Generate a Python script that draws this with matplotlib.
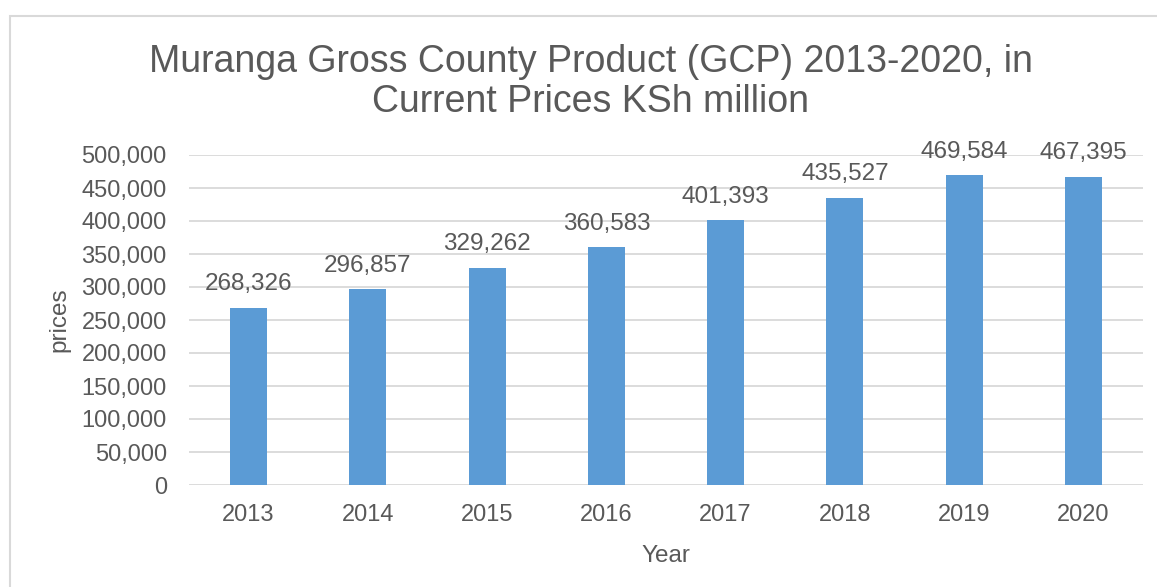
import numpy as np
import matplotlib.pyplot as plt
from matplotlib.patches import Rectangle
from matplotlib.ticker import FuncFormatter

plt.rcParams['font.family'] = ['Liberation Sans', 'DejaVu Sans']

years = ['2013', '2014', '2015', '2016', '2017', '2018', '2019', '2020']
gcp = [268326, 296857, 329262, 360583, 401393, 435527, 469584, 467395]

text_col = '#595959'
grid_col = '#D9D9D9'
bar_col = '#5B9BD5'

fig = plt.figure(figsize=(11.57, 5.87), dpi=100)
ax = fig.add_axes([189 / 1157, 1 - 485 / 587, (1143 - 189) / 1157, (485 - 155) / 587])

x = np.arange(len(years))
bars = ax.bar(x, gcp, width=0.31, color=bar_col, zorder=3)
for xi, v in zip(x, gcp):
    ax.annotate(f"{v:,}", (xi, v), xytext=(0, 9), textcoords='offset points',
                ha='center', va='bottom', fontsize=17.5, color=text_col,
                annotation_clip=False)

ax.set_xlim(-0.5, len(years) - 0.5)
ax.set_ylim(0, 500000)
ax.set_yticks(np.arange(0, 500001, 50000))
ax.yaxis.set_major_formatter(FuncFormatter(lambda v, p: f"{int(v):,}"))
ax.set_xticks(x)
ax.set_xticklabels(years)
ax.tick_params(axis='both', length=0, labelsize=17, labelcolor=text_col)
ax.tick_params(axis='y', pad=16)
ax.tick_params(axis='x', pad=14)
ax.grid(axis='y', color=grid_col, linewidth=1.3, zorder=0)
for s in ax.spines.values():
    s.set_visible(False)

ax.set_xlabel('Year', fontsize=17.5, color=text_col, labelpad=13)
ax.set_ylabel('prices', fontsize=17.5, color=text_col, labelpad=8)

fig.text(591 / 1157, 1 - 82 / 587,
         'Muranga Gross County Product (GCP) 2013-2020, in\nCurrent Prices KSh million',
         ha='center', va='center', fontsize=27, color=text_col, linespacing=1.12)

fig.patches.append(Rectangle((10 / 1157, -0.1), 1.2, 1 - 16 / 587 + 0.1,
                             transform=fig.transFigure, fill=False,
                             edgecolor=grid_col, linewidth=1.5))

fig.savefig('out.png', dpi=100)
